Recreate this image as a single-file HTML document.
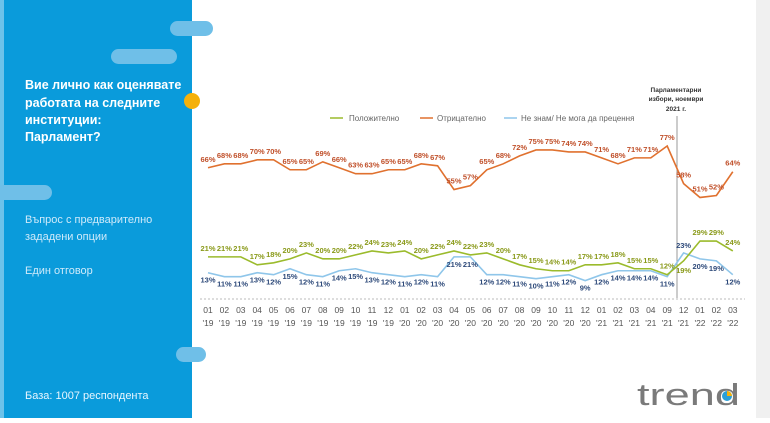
<!DOCTYPE html>
<html><head><meta charset="utf-8"><style>
body{margin:0;width:770px;height:418px;overflow:hidden;background:#fff;font-family:"Liberation Sans",sans-serif}
</style></head><body>
<svg width="770" height="418" viewBox="0 0 770 418" xmlns="http://www.w3.org/2000/svg" font-family="Liberation Sans, sans-serif">
<rect x="0" y="0" width="770" height="418" fill="#fff"/>
<rect x="756" y="0" width="14" height="418" fill="#f0f0f0"/>
<rect x="0" y="0" width="4" height="418" fill="#6cc2ea"/>
<rect x="4" y="0" width="188" height="418" fill="#0a9bdb"/>
<rect x="170" y="21" width="43" height="15" rx="7.5" fill="#6fbfe8"/>
<rect x="111" y="49" width="66" height="15" rx="7.5" fill="#6fbfe8"/>
<rect x="-10" y="185" width="62" height="15" rx="7.5" fill="#6fbfe8"/>
<rect x="176" y="347" width="30" height="15" rx="7.5" fill="#6fbfe8"/>
<circle cx="192" cy="101" r="8" fill="#f5b10a"/>
<g fill="#fff" font-weight="bold" font-size="12.5">
<text x="25" y="89">Вие лично как оценявате</text>
<text x="25" y="107">работата на следните</text>
<text x="25" y="124">институции:</text>
<text x="25" y="141">Парламент?</text>
</g>
<g fill="#cfeafa" font-size="11">
<text x="25" y="223">Въпрос с предварително</text>
<text x="25" y="240">зададени опции</text>
<text x="25" y="274">Един отговор</text>
</g>
<text x="25" y="399" fill="#e8f6ff" font-size="11">База:  1007 респондента</text>
<line x1="330" y1="118" x2="343" y2="118" stroke="#9bbb2c" stroke-width="1.5"/>
<text x="349" y="121" font-size="8" fill="#666">Положително</text>
<line x1="420" y1="118" x2="433" y2="118" stroke="#e0712f" stroke-width="1.5"/>
<text x="437" y="121" font-size="8" fill="#666">Отрицателно</text>
<line x1="504" y1="118" x2="517" y2="118" stroke="#8fc6ea" stroke-width="1.5"/>
<text x="521" y="121" font-size="8" fill="#666">Не знам/ Не мога да прецення</text>
<g font-size="6.5" font-weight="bold" fill="#333" text-anchor="middle">
<text x="676" y="92">Парламентарни</text>
<text x="676" y="101">избори, ноември</text>
<text x="676" y="111">2021 г.</text>
</g>
<line x1="677" y1="116" x2="677" y2="298" stroke="#999" stroke-width="1"/>
<line x1="200" y1="299" x2="745" y2="299" stroke="#bbb" stroke-width="1" stroke-dasharray="2,2"/>
<g id="chart"></g>
<text x="637" y="405" font-size="31" fill="#7a7a7a" textLength="103" lengthAdjust="spacingAndGlyphs">trend</text>
<circle cx="727" cy="396" r="5" fill="#2a9fd8"/>
<path d="M727 396 L727 391 A5 5 0 0 1 732 396 Z" fill="#f5b10a"/>
</svg>
<script>
const O=[66,68,68,70,70,65,65,69,66,63,63,65,65,68,67,55,57,65,68,72,75,75,74,74,71,68,71,71,77,58,51,52,64];
const G=[21,21,21,17,18,20,23,20,20,22,24,23,24,20,22,24,22,23,20,17,15,14,14,17,17,18,15,15,12,19,29,29,24];
const B=[13,11,11,13,12,15,12,11,14,15,13,12,11,12,11,21,21,12,12,11,10,11,12,9,12,14,14,14,11,23,20,19,12];
const L=[];for(let i=1;i<=12;i++)L.push([String(i).padStart(2,'0'),"'19"]);for(let i=1;i<=12;i++)L.push([String(i).padStart(2,'0'),"'20"]);
["01","02","03","04","09"].forEach(m=>L.push([m,"'21"]));L.push(["12","'21"]);["01","02","03"].forEach(m=>L.push([m,"'22"]));
const X=i=>208+i*16.4, Y=v=>146+(77-v)*1.98;
let s='';
function line(d,c){s+=`<polyline fill="none" stroke="${c}" stroke-width="1.6" points="${d.map((v,i)=>X(i)+','+Y(v)).join(' ')}"/>`;}
line(B,'#8fc6ea');line(G,'#9bbb2c');line(O,'#e0712f');
O.forEach((v,i)=>s+=`<text x="${X(i)}" y="${Y(v)-6}" font-size="7.5" font-weight="bold" fill="#c0502a" text-anchor="middle">${v}%</text>`);
G.forEach((v,i)=>{let yy=(i==29)?Y(v)+12:Y(v)-6;s+=`<text x="${X(i)}" y="${yy}" font-size="7.5" font-weight="bold" fill="#8a9a1a" text-anchor="middle">${v}%</text>`});
B.forEach((v,i)=>{let yy=(i==29)?Y(v)-5:Y(v)+10;s+=`<text x="${X(i)}" y="${yy}" font-size="7.5" font-weight="bold" fill="#2e4a7a" text-anchor="middle">${v}%</text>`});
L.forEach((l,i)=>{s+=`<text x="${X(i)}" y="313" font-size="8.5" fill="#555" text-anchor="middle">${l[0]}</text><text x="${X(i)}" y="326" font-size="8.5" fill="#555" text-anchor="middle">${l[1]}</text>`});
document.getElementById('chart').innerHTML=s;
</script>
</body></html>
